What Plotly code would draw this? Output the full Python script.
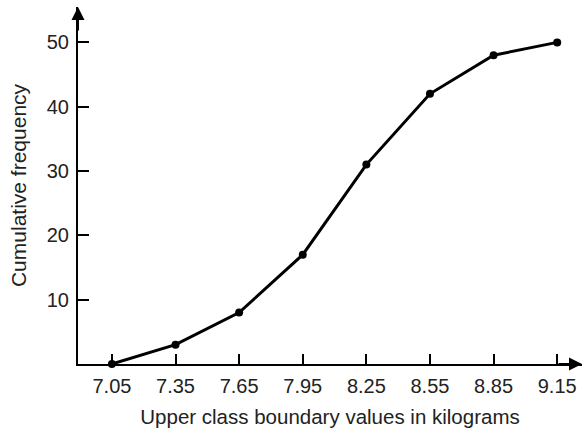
import plotly.graph_objects as go

boundaries = [7.05, 7.35, 7.65, 7.95, 8.25, 8.55, 8.85, 9.15]
cum_freq = [0, 3, 8, 17, 31, 42, 48, 50]
x_tick_labels = ["7.05", "7.35", "7.65", "7.95", "8.25", "8.55", "8.85", "9.15"]
y_ticks = [10, 20, 30, 40, 50]

font_family = "Liberation Sans, Arial, Helvetica, sans-serif"

fig = go.Figure()
fig.add_trace(go.Scatter(
    x=boundaries, y=cum_freq, mode="lines+markers",
    line=dict(color="black", width=3),
    marker=dict(color="black", size=8),
    cliponaxis=False, showlegend=False,
))

fig.update_layout(
    width=588, height=431,
    margin=dict(l=78, r=6, t=7, b=67),
    paper_bgcolor="white", plot_bgcolor="white",
    font=dict(family=font_family, color="#222", size=20),
    xaxis=dict(
        range=[6.89, 9.267],
        tickvals=boundaries, ticktext=x_tick_labels,
        ticks="inside", ticklen=10, tickwidth=2, tickcolor="black",
        showline=True, linecolor="black", linewidth=2,
        showgrid=False, zeroline=False, automargin=False,
        ticklabelstandoff=3,
        title=dict(text="Upper class boundary values in kilograms", font=dict(size=20.5), standoff=14),
        tickfont=dict(size=20),
    ),
    yaxis=dict(
        range=[0, 55.5],
        tickvals=y_ticks,
        ticks="inside", ticklen=11, tickwidth=2, tickcolor="black",
        showline=True, linecolor="black", linewidth=2,
        showgrid=False, zeroline=False, automargin=False,
        ticklabelstandoff=3,
        title=dict(text="Cumulative frequency", font=dict(size=21), standoff=14),
        tickfont=dict(size=20),
    ),
)

# arrowheads on axes
fig.add_annotation(xref="paper", yref="paper", x=0, y=1, ax=0, ay=25,
                   showarrow=True, arrowhead=2, arrowsize=1.3, arrowwidth=2,
                   arrowcolor="black", text="")
fig.add_annotation(xref="paper", yref="paper", x=1, y=0, ax=-25, ay=0,
                   showarrow=True, arrowhead=2, arrowsize=1.3, arrowwidth=2,
                   arrowcolor="black", text="")

fig.write_html("out.html", config={"displayModeBar": False},
               post_script="document.body.style.margin='0';")
